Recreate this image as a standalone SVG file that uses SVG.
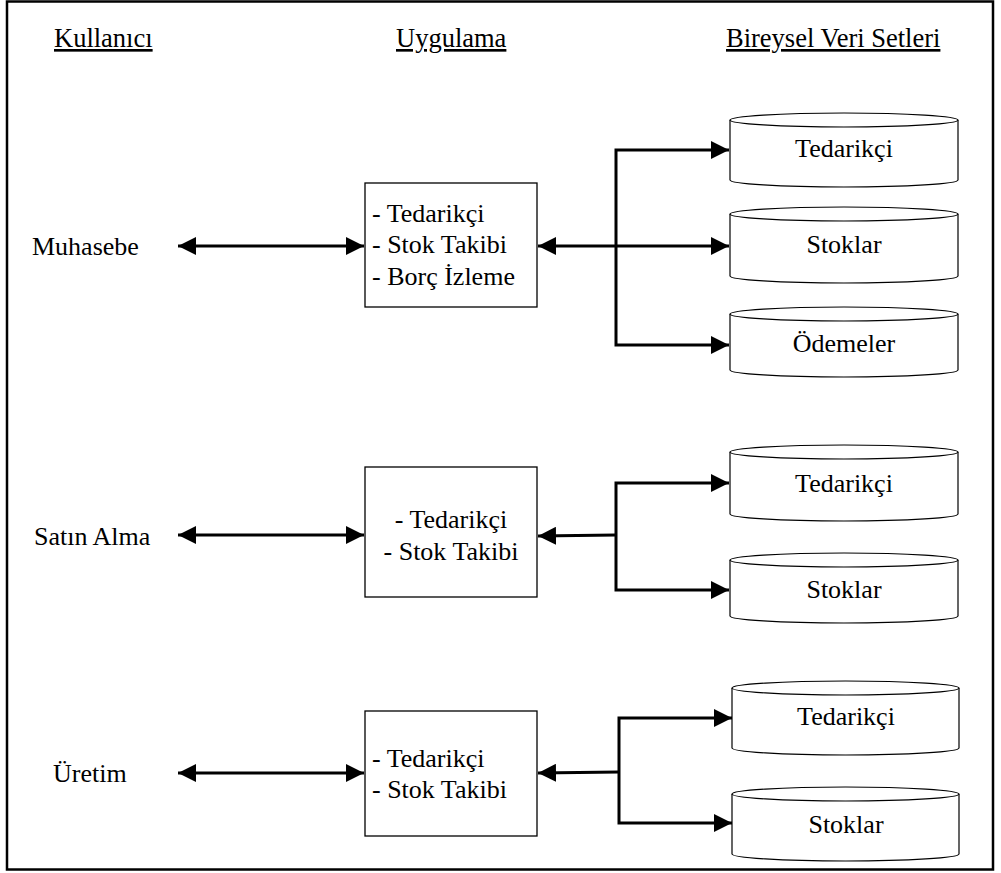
<svg xmlns="http://www.w3.org/2000/svg" width="1001" height="873" viewBox="0 0 1001 873">
<style>
text{font-family:"Liberation Serif","Times New Roman",serif;font-size:26px;fill:#000}
.hdr{text-decoration:underline;font-size:26.5px}
.mid{text-anchor:middle}
.box{fill:#fff;stroke:#000;stroke-width:1.3}
.cyl{fill:#fff;stroke:#000;stroke-width:1.2}
.con{fill:none;stroke:#000;stroke-width:3}
</style>
<defs>
<marker id="ah" markerUnits="userSpaceOnUse" markerWidth="18" markerHeight="18" refX="18" refY="9" orient="auto-start-reverse" viewBox="0 0 18 18">
<path d="M0,0 L18,9 L0,18 z" fill="#000"/>
</marker>
</defs>
<rect x="7" y="1.5" width="986" height="868" fill="#fff" stroke="#000" stroke-width="2.5"/>

<g id="headers">
<text class="hdr" x="54" y="47">Kullanıcı</text>
<text class="hdr" x="396" y="47">Uygulama</text>
<text class="hdr" x="726" y="47">Bireysel Veri Setleri</text>
</g>

<g id="users">
<text id="u-muhasebe" x="32" y="255">Muhasebe</text>
<text id="u-satinalma" x="34" y="545">Satın Alma</text>
<text id="u-uretim" x="53" y="782">Üretim</text>
</g>

<g id="connectors">
<path class="con" d="M178,246 L364,246" marker-start="url(#ah)" marker-end="url(#ah)"/>
<path class="con" d="M178,535 L364,535" marker-start="url(#ah)" marker-end="url(#ah)"/>
<path class="con" d="M178,773 L364,773" marker-start="url(#ah)" marker-end="url(#ah)"/>

<path class="con" d="M538,246 L729,246" marker-start="url(#ah)" marker-end="url(#ah)"/>
<path class="con" d="M729,150 L616,150 L616,345 L729,345" marker-start="url(#ah)" marker-end="url(#ah)"/>

<path class="con" d="M616,535 L538,536" marker-end="url(#ah)"/>
<path class="con" d="M729,483 L616,483 L616,590 L729,590" marker-start="url(#ah)" marker-end="url(#ah)"/>

<path class="con" d="M619,772 L538,773" marker-end="url(#ah)"/>
<path class="con" d="M732,718 L619,718 L619,823 L732,823" marker-start="url(#ah)" marker-end="url(#ah)"/>
</g>

<g id="app1">
<rect class="box" x="365" y="183" width="172" height="124"/>
<text x="372" y="222">- Tedarikçi</text>
<text x="372" y="253">- Stok Takibi</text>
<text x="372" y="285">- Borç İzleme</text>
</g>
<g id="app2">
<rect class="box" x="365" y="467" width="172" height="130"/>
<text class="mid" x="451" y="528">- Tedarikçi</text>
<text class="mid" x="451" y="560">- Stok Takibi</text>
</g>
<g id="app3">
<rect class="box" x="365" y="711" width="172" height="125"/>
<text x="372" y="767">- Tedarikçi</text>
<text x="372" y="798">- Stok Takibi</text>
</g>

<g id="ds1-tedarikci">
<path class="cyl" d="M730,120 L730,180 A114,7 0 0 0 958,180 L958,120"/>
<ellipse class="cyl" cx="844" cy="120" rx="114" ry="7"/>
<text class="mid" x="844" y="157">Tedarikçi</text>
</g>
<g id="ds1-stoklar">
<path class="cyl" d="M730,214 L730,276 A114,7 0 0 0 958,276 L958,214"/>
<ellipse class="cyl" cx="844" cy="214" rx="114" ry="7"/>
<text class="mid" x="844" y="253">Stoklar</text>
</g>
<g id="ds1-odemeler">
<path class="cyl" d="M730,314 L730,370 A114,7 0 0 0 958,370 L958,314"/>
<ellipse class="cyl" cx="844" cy="314" rx="114" ry="7"/>
<text class="mid" x="844" y="352">Ödemeler</text>
</g>

<g id="ds2-tedarikci">
<path class="cyl" d="M730,452 L730,514 A114,7 0 0 0 958,514 L958,452"/>
<ellipse class="cyl" cx="844" cy="452" rx="114" ry="7"/>
<text class="mid" x="844" y="492">Tedarikçi</text>
</g>
<g id="ds2-stoklar">
<path class="cyl" d="M730,560 L730,616 A114,7 0 0 0 958,616 L958,560"/>
<ellipse class="cyl" cx="844" cy="560" rx="114" ry="7"/>
<text class="mid" x="844" y="598">Stoklar</text>
</g>

<g id="ds3-tedarikci">
<path class="cyl" d="M732,688 L732,748 A113.5,7 0 0 0 959,748 L959,688"/>
<ellipse class="cyl" cx="845.5" cy="688" rx="113.5" ry="7"/>
<text class="mid" x="846" y="725">Tedarikçi</text>
</g>
<g id="ds3-stoklar">
<path class="cyl" d="M732,794 L732,854 A113.5,7 0 0 0 959,854 L959,794"/>
<ellipse class="cyl" cx="845.5" cy="794" rx="113.5" ry="7"/>
<text class="mid" x="846" y="833">Stoklar</text>
</g>
</svg>
